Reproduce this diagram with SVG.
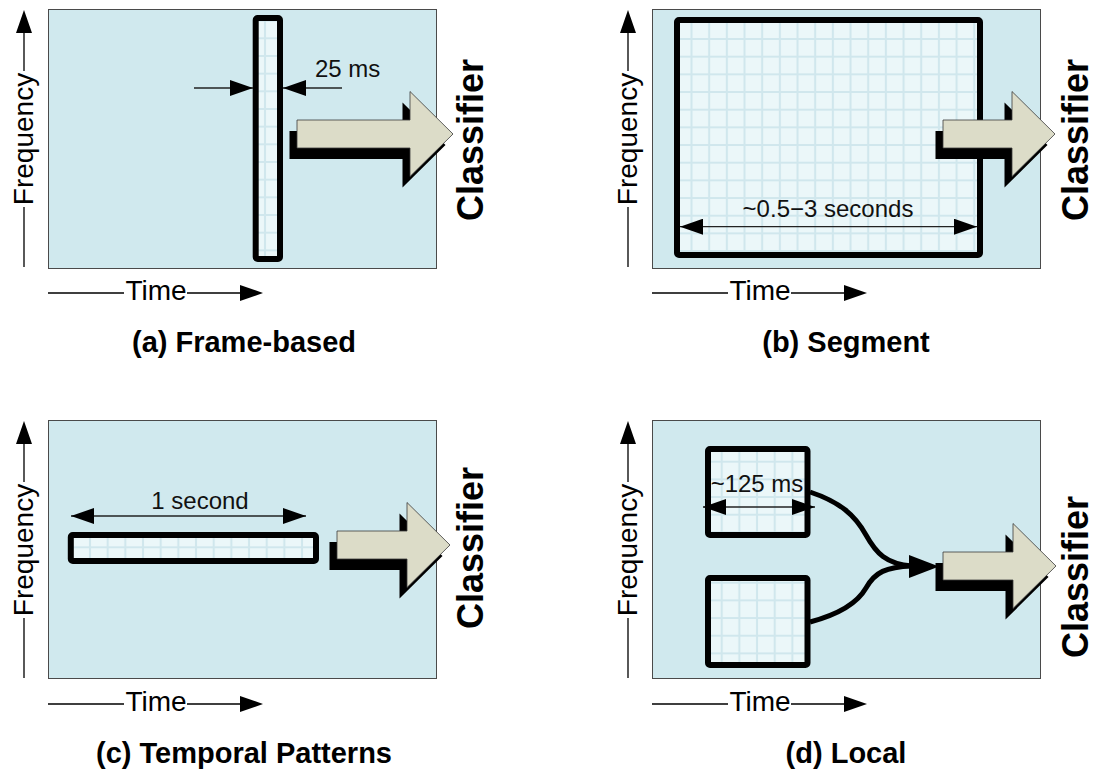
<svg xmlns="http://www.w3.org/2000/svg" width="1097" height="774" viewBox="0 0 1097 774">
<style>
.bg{fill:#d0e9ee;stroke:#4a4a4a;stroke-width:1}
.frame{fill:url(#grid);stroke:#000;stroke-width:6}
.beige{fill:#dcdcc8;stroke:#3a3a3a;stroke-width:0.8}
.shadow{fill:#000}
.axis{stroke:#000;stroke-width:1.3;fill:none}
.dim{stroke:#222;stroke-width:1.3;fill:none}
.lbl{font-family:"Liberation Sans",Arial,sans-serif;font-size:28px;fill:#000}
.dimt{font-family:"Liberation Sans",Arial,sans-serif;font-size:24px;fill:#111}
.cls{font-family:"Liberation Sans",Arial,sans-serif;font-size:36px;font-weight:bold;fill:#000}
.cap{font-family:"Liberation Sans",Arial,sans-serif;font-size:29px;font-weight:bold;fill:#000}
.curve{stroke:#000;stroke-width:5;fill:none}
</style>
<defs>
<pattern id="grid" width="17.67" height="17.67" patternUnits="userSpaceOnUse">
<rect width="17.67" height="17.67" fill="#ebf7f9"/>
<path d="M0,0V17.67M17.67,0V17.67M0,0H17.67M0,17.67H17.67" stroke="#d0e7ed" stroke-width="2"/>
</pattern>
<marker id="ah" markerUnits="userSpaceOnUse" markerWidth="24" markerHeight="16" refX="23" refY="8" orient="auto-start-reverse" viewBox="0 0 24 16">
<path d="M0,0 L23,8 L0,16 Z" fill="#000"/>
</marker>
</defs>
<rect width="1097" height="774" fill="#fff"/>

<!-- Panel (a) -->
<g id="panel-a">
<rect class="bg" x="48.5" y="9.5" width="388" height="259"/>
<g transform="translate(265,38.3)"><rect class="frame" x="-9.3" y="-20.3" width="24.3" height="241" rx="2"/></g>
<line class="dim" x1="194" y1="88" x2="253" y2="88" marker-end="url(#ah)"/>
<line class="dim" x1="342" y1="88" x2="283" y2="88" marker-end="url(#ah)"/>
<text class="dimt" x="315" y="77">25 ms</text>
<path class="shadow" transform="translate(-7.5,11)" d="M297,120 L410,120 L410,91.5 L453,134 L410,176.5 L410,148 L297,148 Z"/>
<path class="beige" d="M297,120 L410,120 L410,91.5 L453,134 L410,176.5 L410,148 L297,148 Z"/>
<text class="cls" text-anchor="middle" transform="translate(483,140) rotate(-90)">Classifier</text>
<path class="axis" d="M24,267V207M24,71V33"/>
<path d="M16,33 L24,10 L32,33 Z"/>
<text class="lbl" text-anchor="middle" transform="translate(33,139) rotate(-90)">Frequency</text>
<path class="axis" d="M48,293H124M187,293H240"/>
<path d="M240,285 L263,293 L240,301 Z"/>
<text class="lbl" x="156" y="300" text-anchor="middle">Time</text>
<text class="cap" x="244" y="352" text-anchor="middle">(a) Frame-based</text>
</g>

<!-- Panel (b) -->
<g id="panel-b">
<rect class="bg" x="652.5" y="9.5" width="388" height="259"/>
<g transform="translate(691.5,39)"><rect class="frame" x="-14.5" y="-19" width="303" height="235" rx="2"/></g>
<line class="dim" x1="680" y1="226.7" x2="977" y2="226.7" marker-start="url(#ah)" marker-end="url(#ah)"/>
<text class="dimt" x="828" y="217" text-anchor="middle">~0.5−3 seconds</text>
<path class="shadow" transform="translate(-7.5,11)" d="M943,120 L1012,120 L1012,91.5 L1055,134 L1012,176.5 L1012,148 L943,148 Z"/>
<path class="beige" d="M943,120 L1012,120 L1012,91.5 L1055,134 L1012,176.5 L1012,148 L943,148 Z"/>
<text class="cls" text-anchor="middle" transform="translate(1088,140) rotate(-90)">Classifier</text>
<path class="axis" d="M628,267V207M628,71V33"/>
<path d="M620,33 L628,10 L636,33 Z"/>
<text class="lbl" text-anchor="middle" transform="translate(637,139) rotate(-90)">Frequency</text>
<path class="axis" d="M652,293H728M791,293H844"/>
<path d="M844,285 L867,293 L844,301 Z"/>
<text class="lbl" x="760" y="300" text-anchor="middle">Time</text>
<text class="cap" x="846" y="352" text-anchor="middle">(b) Segment</text>
</g>

<!-- Panel (c) -->
<g id="panel-c">
<rect class="bg" x="48.5" y="420.5" width="388" height="258"/>
<g transform="translate(90,547.3)"><rect class="frame" x="-19.2" y="-12.3" width="245.2" height="26" rx="2"/></g>
<line class="dim" x1="71" y1="516" x2="306" y2="516" marker-start="url(#ah)" marker-end="url(#ah)"/>
<text class="dimt" x="200" y="509" text-anchor="middle">1 second</text>
<path class="shadow" transform="translate(-7.5,11)" d="M337,531 L407,531 L407,502.5 L450,545 L407,587.5 L407,559 L337,559 Z"/>
<path class="beige" d="M337,531 L407,531 L407,502.5 L450,545 L407,587.5 L407,559 L337,559 Z"/>
<text class="cls" text-anchor="middle" transform="translate(483,548) rotate(-90)">Classifier</text>
<path class="axis" d="M24,678V618M24,482V444"/>
<path d="M16,444 L24,421 L32,444 Z"/>
<text class="lbl" text-anchor="middle" transform="translate(33,550) rotate(-90)">Frequency</text>
<path class="axis" d="M48,704H124M187,704H240"/>
<path d="M240,696 L263,704 L240,712 Z"/>
<text class="lbl" x="156" y="711" text-anchor="middle">Time</text>
<text class="cap" x="244" y="763" text-anchor="middle">(c) Temporal Patterns</text>
</g>

<!-- Panel (d) -->
<g id="panel-d">
<rect class="bg" x="652.5" y="420.5" width="388" height="258"/>
<g id="box-d1" transform="translate(721.7,461.7)"><rect class="frame" x="-13.7" y="-12.7" width="99.5" height="86" rx="2"/></g>
<g id="box-d2" transform="translate(721.7,582.7)"><rect class="frame" x="-13.7" y="-4.7" width="99.5" height="87" rx="2"/></g>
<line class="dim" x1="703" y1="507" x2="815" y2="507" marker-start="url(#ah)" marker-end="url(#ah)"/>
<text class="dimt" x="757" y="492" text-anchor="middle">~125 ms</text>
<path class="shadow" transform="translate(-7.5,11)" d="M943,552 L1013,552 L1013,523.5 L1056,566 L1013,608.5 L1013,580 L943,580 Z"/>
<path class="beige" d="M943,552 L1013,552 L1013,523.5 L1056,566 L1013,608.5 L1013,580 L943,580 Z"/>
<text class="cls" text-anchor="middle" transform="translate(1088,577) rotate(-90)">Classifier</text>
<path class="axis" d="M628,678V618M628,482V444"/>
<path d="M620,444 L628,421 L636,444 Z"/>
<text class="lbl" text-anchor="middle" transform="translate(637,550) rotate(-90)">Frequency</text>
<path class="axis" d="M652,704H728M791,704H844"/>
<path d="M844,696 L867,704 L844,712 Z"/>
<text class="lbl" x="760" y="711" text-anchor="middle">Time</text>
<text class="cap" x="846" y="763" text-anchor="middle">(d) Local</text>
</g>

<!-- Connectors -->
<g id="connectors">
<path class="curve" d="M810,492 C840,502 855,515 866,535 C876,553 886,564 912,566"/>
<path class="curve" d="M810,622 C840,614 858,602 866,588 C875,572 886,567 912,566"/>
<path d="M909,555 L939,566.5 L909,578 Z" fill="#000"/>
</g>
</svg>
